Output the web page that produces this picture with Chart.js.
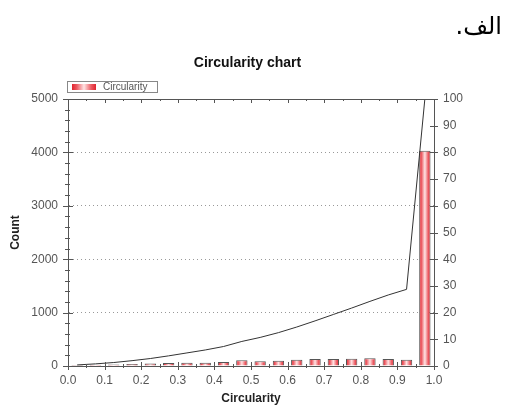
<!DOCTYPE html>
<html>
<head>
<meta charset="utf-8">
<script src="https://cdn.jsdelivr.net/npm/chart.js@4.4.1/dist/chart.umd.min.js"></script>
<style>
    html, body { margin: 0; padding: 0; background: #fff; }
    #wrap { position: relative; width: 513px; height: 406px; }
    #cap { position: absolute; right: 11px; top: 14px; font-family: "DejaVu Sans", sans-serif; font-size: 24px; line-height: 24px; color: #000; }
</style>
</head>
<body>
<div id="wrap">
    <canvas id="chart" width="513" height="406"></canvas>
    <div id="cap" dir="rtl">الف.</div>
</div>
<script>
// histogram bins (centre of each 0.05 bin)
const binCenters = [0.025, 0.075, 0.125, 0.175, 0.225, 0.275, 0.325, 0.375, 0.425, 0.475,
                    0.525, 0.575, 0.625, 0.675, 0.725, 0.775, 0.825, 0.875, 0.925, 0.975];
const counts = [20, 25, 30, 37, 45, 56, 63, 63, 75, 106, 87, 100, 119, 131, 131, 137, 144, 131, 119, 4030];
// cumulative percentage (right axis)
const cumulative = [0.4, 0.8, 1.3, 2.0, 2.8, 3.8, 4.9, 6.0, 7.3, 9.2, 10.7, 12.5, 14.6, 16.9, 19.3, 21.7, 24.2, 26.6, 28.7, 100];

const FONT = 'Liberation Sans';
const AXIS = '#555';
const BAR_PCT = 0.62;

function redGradient(ctx, x0, x1) {
    const g = ctx.createLinearGradient(x0, 0, x1, 0);
    g.addColorStop(0, '#e0252f');
    g.addColorStop(0.2, '#ec5a62');
    g.addColorStop(0.5, '#ffe4e4');
    g.addColorStop(0.8, '#ec5a62');
    g.addColorStop(1, '#e0252f');
    return g;
}

function barFill(c) {
    const chart = c.chart;
    const xs = chart.scales.x;
    if (c.type !== 'data' || !chart.chartArea || !xs) return '#e0252f';
    const cx = xs.getPixelForValue(binCenters[c.dataIndex]);
    const half = (xs.getPixelForValue(0.05) - xs.getPixelForValue(0)) * BAR_PCT / 2;
    if (!isFinite(cx) || !isFinite(half)) return '#e0252f';
    return redGradient(chart.ctx, cx - half, cx + half);
}

// frame, tick marks and the small legend box
const decor = {
    id: 'decor',
    afterDraw(chart) {
        const { ctx, chartArea: a, scales } = chart;
        const px = v => Math.round(v) + 0.5;
        ctx.save();
        ctx.strokeStyle = AXIS;
        ctx.lineWidth = 1;
        ctx.beginPath();
        ctx.moveTo(px(a.left), px(a.top));
        ctx.lineTo(px(a.right), px(a.top));
        ctx.stroke();

        ctx.beginPath();
        for (let v = 0; v <= 5000; v += 200) {
            const y = px(scales.y.getPixelForValue(v));
            const big = v % 1000 === 0;
            ctx.moveTo(a.left - (big ? 5 : 3), y);
            ctx.lineTo(a.left + (big ? 5 : 2), y);
        }
        for (let v = 0; v <= 100; v += 10) {
            const y = px(scales.y2.getPixelForValue(v));
            ctx.moveTo(a.right - 4, y);
            ctx.lineTo(a.right + 4, y);
        }
        for (let i = 0; i <= 20; i++) {
            const x = px(scales.x.getPixelForValue(i * 0.05));
            const big = i % 2 === 0;
            ctx.moveTo(x, a.bottom - (big ? 4 : 2));
            ctx.lineTo(x, a.bottom + (big ? 4 : 2));
            ctx.moveTo(x, a.top);
            ctx.lineTo(x, a.top + (big ? 4 : 2));
        }
        ctx.stroke();

        // legend
        ctx.strokeStyle = '#888';
        ctx.strokeRect(67.5, 81.5, 90, 11);
        ctx.fillStyle = redGradient(ctx, 72, 96);
        ctx.fillRect(72, 84, 24, 6);
        ctx.fillStyle = '#555';
        ctx.font = '10px "' + FONT + '"';
        ctx.textBaseline = 'middle';
        ctx.fillText('Circularity', 103, 87.5);
        ctx.restore();
    }
};

const tickFont = { family: FONT, size: 12 };
const titleFont = { family: FONT, size: 12, weight: 'bold' };

new Chart(document.getElementById('chart'), {
    type: 'bar',
    data: {
        datasets: [{
            type: 'line',
            label: 'Cumulative',
            data: cumulative.map((v, i) => ({ x: binCenters[i], y: v })),
            yAxisID: 'y2',
            borderColor: '#333',
            borderWidth: 1,
            pointRadius: 0,
            tension: 0,
            order: 0
        }, {
            label: 'Circularity',
            data: counts.map((v, i) => ({ x: binCenters[i], y: v })),
            yAxisID: 'y',
            backgroundColor: barFill,
            borderColor: '#555',
            borderWidth: 1,
            barPercentage: BAR_PCT,
            categoryPercentage: 1,
            order: 1
        }]
    },
    options: {
        responsive: false,
        animation: false,
        layout: { padding: { left: 0, right: 18, top: 0, bottom: 0 } },
        plugins: {
            legend: { display: false },
            tooltip: { enabled: false },
            title: {
                display: true,
                text: 'Circularity chart',
                color: '#111',
                font: { family: FONT, size: 14, weight: 'bold' },
                padding: { top: 54.6, bottom: 27.6 }
            }
        },
        scales: {
            x: {
                type: 'linear',
                min: 0,
                max: 1,
                offset: false,
                grid: { display: false, drawTicks: false },
                border: { color: AXIS },
                ticks: { stepSize: 0.1, callback: v => v.toFixed(1), color: AXIS, font: tickFont, padding: 7, maxRotation: 0 },
                title: { display: true, text: 'Circularity', color: '#222', font: titleFont, padding: { top: 0, bottom: 0 } },
                afterFit: s => { s.height = 40; }
            },
            y: {
                position: 'left',
                min: 0,
                max: 5000,
                grid: {
                    drawTicks: false,
                    color: c => (c.tick && (c.tick.value === 0 || c.tick.value === 5000)) ? 'rgba(0,0,0,0)' : '#999'
                },
                border: { color: AXIS, dash: [1, 3] },
                ticks: { stepSize: 1000, callback: v => String(v), color: AXIS, font: tickFont, padding: 10 },
                title: { display: true, text: 'Count', color: '#222', font: titleFont, padding: { top: 8, bottom: 0 } },
                afterFit: s => { s.width = 68; }
            },
            y2: {
                position: 'right',
                min: 0,
                max: 100,
                grid: { display: false, drawTicks: false },
                border: { color: AXIS },
                ticks: { stepSize: 10, callback: v => String(v), color: AXIS, font: tickFont, padding: 9 },
                afterFit: s => { s.width = 61; }
            }
        }
    },
    plugins: [decor]
});
</script>
</body>
</html>
